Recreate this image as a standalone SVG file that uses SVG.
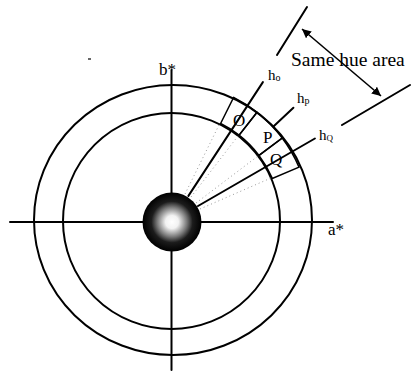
<svg xmlns="http://www.w3.org/2000/svg" width="411" height="372" viewBox="0 0 411 372">
  <style>
    .ln { stroke: #000; stroke-width: 2; fill: none; stroke-linecap: round; }
    .thin { stroke: #000; stroke-width: 1.5; fill: none; }
    .dot { stroke: #9a9a9a; stroke-width: 1; stroke-dasharray: 1 3; fill: none; }
    .t { font-family: "Liberation Serif", "Times New Roman", serif; fill: #000; }
  </style>
  <defs>
    <radialGradient id="sph" cx="50%" cy="50%" r="50%">
      <stop offset="0" stop-color="#fff"/>
      <stop offset="0.22" stop-color="#f2f2f2"/>
      <stop offset="0.5" stop-color="#7a7a7a"/>
      <stop offset="0.7" stop-color="#1c1c1c"/>
      <stop offset="1" stop-color="#000"/>
    </radialGradient>
    <marker id="ah" viewBox="0 0 10 10" refX="10" refY="5" markerWidth="9" markerHeight="9" markerUnits="userSpaceOnUse" orient="auto-start-reverse">
      <path d="M0,0 L10,5 L0,10 Z" fill="#000"/>
    </marker>
  </defs>
  <rect width="411" height="372" fill="#fff"/>

  <g id="cells">
    <path id="cellO" d="M220.6,123.5 L233.6,97.5 A138,138 0 0 1 257.0,112.3 L239.1,135.1 A109,109 0 0 0 220.6,123.5 Z" fill="#d6d6d6" class="thin"/>
    <path id="cellP" d="M239.1,135.1 L257.0,112.3 A138,138 0 0 1 282.2,138.0 L259.0,155.4 A109,109 0 0 0 239.1,135.1 Z" fill="#d9d9d9" class="thin"/>
    <path id="cellQ" d="M259.0,155.4 L282.2,138.0 A138,138 0 0 1 299.0,167.1 L272.3,178.4 A109,109 0 0 0 259.0,155.4 Z" fill="#f3f3f3" class="thin"/>
  </g>

  <g id="circles">
    <ellipse id="outer" cx="173" cy="220" rx="139" ry="135" class="ln"/>
    <ellipse id="inner" cx="171.5" cy="221" rx="108.5" ry="108" class="ln"/>
  </g>

  <g id="axes">
    <line x1="10" y1="222" x2="333" y2="222" class="ln"/>
    <line x1="171.5" y1="70" x2="171.5" y2="370" class="ln"/>
  </g>

  <g id="connectors">
    <line x1="185" y1="194" x2="220" y2="123" class="dot"/>
    <line x1="191" y1="197" x2="238" y2="136" class="dot"/>
    <line x1="196" y1="203" x2="258" y2="156" class="dot"/>
    <line x1="200" y1="209" x2="271" y2="178" class="dot"/>
    <line id="hO-line" x1="188.4" y1="195.9" x2="262.9" y2="82.1" class="ln"/>
    <line id="hP-line" x1="273.7" y1="126.2" x2="293.4" y2="107.8" class="ln"/>
    <line id="hQ-line" x1="198" y1="206" x2="314.9" y2="138.5" class="ln"/>
    <line x1="307" y1="7" x2="277" y2="55" class="ln"/>
    <line x1="342" y1="125" x2="410" y2="85" class="ln"/>
    <line x1="302" y1="29" x2="381" y2="96" stroke="#000" stroke-width="1.6" marker-start="url(#ah)" marker-end="url(#ah)"/>
    <line x1="88" y1="59" x2="91" y2="59" stroke="#000" stroke-width="1.2"/>
  </g>

  <g id="sphere">
    <circle cx="172" cy="222" r="29.5" fill="url(#sph)"/>
  </g>

  <g id="labels">
    <text class="t" x="233" y="126" font-size="17">O</text>
    <text class="t" x="263" y="143" font-size="17">P</text>
    <text class="t" x="270" y="165" font-size="17">Q</text>
    <text class="t" x="268" y="80" font-size="15">h<tspan font-size="10" dy="1">o</tspan></text>
    <text class="t" x="297" y="103" font-size="15">h<tspan font-size="10" dy="1">p</tspan></text>
    <text class="t" x="319" y="140" font-size="15">h<tspan font-size="9" dy="1">Q</tspan></text>
    <text class="t" x="159" y="75" font-size="17">b*</text>
    <text class="t" x="328" y="235" font-size="17">a*</text>
    <text class="t" x="291" y="66" font-size="19.5">Same hue area</text>
  </g>
</svg>
